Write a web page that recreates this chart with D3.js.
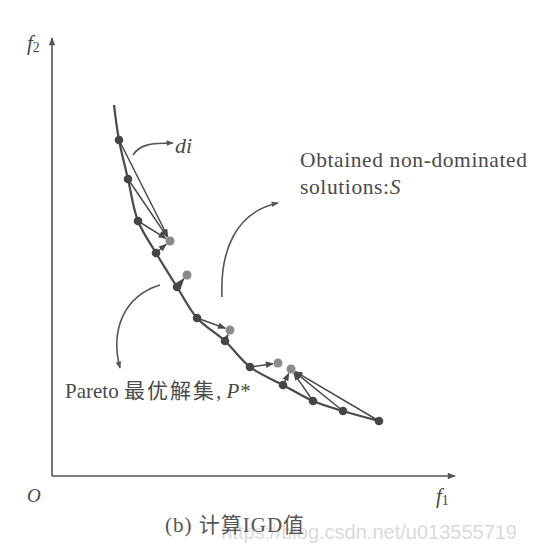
<!DOCTYPE html>
<html><head><meta charset="utf-8">
<script src="https://cdn.jsdelivr.net/npm/d3@7/dist/d3.min.js"></script>
<style>body{margin:0;background:#fff}svg{display:block}</style>
</head><body>
<svg id="c" width="542" height="544"></svg>
<script>
// Pareto front P* (reference points), in f1/f2 units
const paretoF1 = [16.75, 19, 21.5, 26, 31.25, 36.25, 43.25, 49.5, 57.75, 65.25, 72.75, 81.75];
const paretoF2 = [84, 74.25, 63.75, 55.75, 47.25, 39.5, 33.75, 27.25, 22.75, 18.75, 16.25, 13.75];
// extra point where the drawn front curve begins
const frontStart = [15.5, 92.75];
// obtained non-dominated solutions S
const solF1 = [29.5, 33.75, 44.5, 56.5, 59.75];
const solF2 = [58.75, 50.25, 36.5, 28.25, 26.75];
// nearest obtained solution for each Pareto point (distance di)
const nearest = [0, 0, 0, 0, 1, 2, 2, 3, 4, 4, 4, 4];

const svg = d3.select("#c");
const x = d3.scaleLinear().domain([0, 100]).range([52, 452]);
const y = d3.scaleLinear().domain([0, 100]).range([476, 76]);
const ink = "#4a4a4a";

const defs = svg.append("defs");
function marker(id, w, h, col) {
  defs.append("marker").attr("id", id).attr("viewBox", "0 0 10 10")
    .attr("refX", 9).attr("refY", 5).attr("markerWidth", w).attr("markerHeight", h)
    .attr("markerUnits", "userSpaceOnUse").attr("orient", "auto")
    .append("path").attr("d", "M0,1 L10,5 L0,9 Z").attr("fill", col);
}
marker("ah", 10, 8, ink);
marker("axh", 10, 8, "#555");
marker("sh", 8, 7, "#555");

// axes
const xAx = d3.scaleLinear().domain([0, x.invert(455)]).range([52, 455]);
const yAx = d3.scaleLinear().domain([0, y.invert(38)]).range([476, 38]);
const gx = svg.append("g").attr("transform", "translate(0,476)")
  .call(d3.axisBottom(xAx).tickValues([]).tickSizeOuter(0));
const gy = svg.append("g").attr("transform", "translate(52,0)")
  .call(d3.axisLeft(yAx).tickValues([]).tickSizeOuter(0));
[gx, gy].forEach(g => g.select(".domain").attr("stroke", "#555").attr("stroke-width", 1.6)
  .attr("marker-end", "url(#axh)"));
gy.select(".domain").attr("d", `M0,476V38`);
gx.select(".domain").attr("d", `M52,0H455`);

// Pareto front curve
const pts = paretoF1.map((v, i) => [v, paretoF2[i]]);
const line = d3.line().x(d => x(d[0])).y(d => y(d[1])).curve(d3.curveCatmullRom);
svg.append("path").datum([frontStart, ...pts]).attr("d", line)
  .attr("fill", "none").attr("stroke", ink).attr("stroke-width", 2.2);

// di arrows from each Pareto point to nearest solution
function endPt(d, i) {
  const j = nearest[i];
  const dx = x(solF1[j]) - x(d[0]), dy = y(solF2[j]) - y(d[1]);
  const L = Math.hypot(dx, dy);
  return [x(d[0]) + dx * (L - 5) / L, y(d[1]) + dy * (L - 5) / L];
}
svg.append("g").selectAll("line").data(pts).join("line")
  .attr("x1", d => x(d[0])).attr("y1", d => y(d[1]))
  .attr("x2", (d, i) => endPt(d, i)[0]).attr("y2", (d, i) => endPt(d, i)[1])
  .attr("stroke", ink).attr("stroke-width", 1.5).attr("marker-end", "url(#ah)");

// obtained solutions
svg.append("g").selectAll("circle").data(solF1).join("circle")
  .attr("cx", d => x(d)).attr("cy", (d, i) => y(solF2[i])).attr("r", 4.5)
  .attr("fill", "#8a8a8a");
// Pareto points
svg.append("g").selectAll("circle").data(pts).join("circle")
  .attr("cx", d => x(d[0])).attr("cy", d => y(d[1])).attr("r", 4.3)
  .attr("fill", "#454545");

// annotation arrows
const ann = svg.append("g").attr("fill", "none").attr("stroke", "#555").attr("stroke-width", 1.6)
  .attr("marker-end", "url(#sh)");
ann.append("path").attr("d", "M133,155 C140,144 152,143 173,143");
ann.append("path").attr("d", "M222,297 C220,250 236,212 278,203");
ann.append("path").attr("d", "M160,285 C124,296 110,330 120,368");

// texts
const serif = "'Liberation Serif','DejaVu Serif',serif";
const cjk = "'Noto Sans CJK SC'";
const t = svg.append("g").attr("fill", "#4a4a4a").style("font-family", serif);
const f2 = t.append("text").attr("x", 27).attr("y", 50).style("font-size", "21px");
f2.append("tspan").text("f").style("font-style", "italic");
f2.append("tspan").text("2").style("font-size", "14px").attr("dy", 2);
const f1 = t.append("text").attr("x", 436).attr("y", 503).style("font-size", "21px");
f1.append("tspan").text("f").style("font-style", "italic");
f1.append("tspan").text("1").style("font-size", "14px").attr("dy", 2);
t.append("text").attr("x", 27).attr("y", 502).text("O").style("font-size", "19px").style("font-style", "italic");
t.append("text").attr("x", 175).attr("y", 153).text("di").style("font-size", "22px").style("font-style", "italic");
t.append("text").attr("x", 300).attr("y", 167).text("Obtained non-dominated")
  .style("font-size", "21.5px").style("letter-spacing", "0.6px");
const s2 = t.append("text").attr("x", 300).attr("y", 194).style("font-size", "21.5px").style("letter-spacing", "0.6px");
s2.append("tspan").text("solutions:");
s2.append("tspan").text("S").style("font-style", "italic");
const p = t.append("text").attr("x", 65).attr("y", 398).style("font-size", "21px");
p.append("tspan").text("Pareto ");
p.append("tspan").text("最优解集").style("font-family", cjk).style("letter-spacing", "2px");
p.append("tspan").text(", ");
p.append("tspan").text("P*").style("font-style", "italic");

// watermark + caption
svg.append("text").attr("x", 517).attr("y", 539).attr("text-anchor", "end")
  .text("https://blog.csdn.net/u013555719")
  .style("font-family", "'Liberation Sans',sans-serif").style("font-size", "20px").attr("fill", "#dadada");
const cap = svg.append("text").attr("x", 165).attr("y", 532).style("font-size", "21px").attr("fill", "#555")
  .style("font-family", serif).style("letter-spacing", "1px");
cap.append("tspan").text("(b) ");
cap.append("tspan").text("计算").style("font-family", cjk);
cap.append("tspan").text("IGD");
cap.append("tspan").text("值").style("font-family", cjk);
</script>
</body></html>
